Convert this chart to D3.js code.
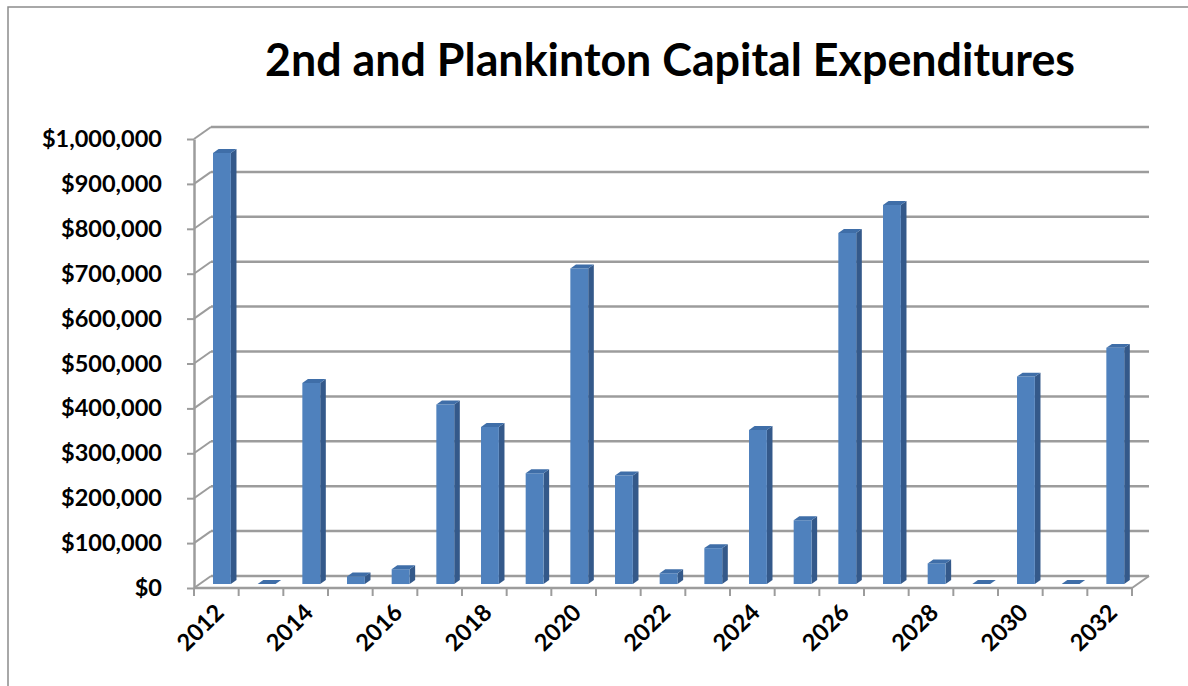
<!DOCTYPE html>
<html>
<head>
<meta charset="utf-8">
<script src="https://cdn.jsdelivr.net/npm/d3@7"></script>
<style>
  html, body { margin: 0; padding: 0; background: #ffffff; }
  svg { display: block; }
</style>
</head>
<body>
<div id="chart"></div>
<script>
const years = ["2012","2013","2014","2015","2016","2017","2018","2019","2020","2021","2022",
               "2023","2024","2025","2026","2027","2028","2029","2030","2031","2032"];
const expenditures = [960000, 0, 448000, 17000, 33000, 400000, 350000, 247000, 703000, 242000, 24000,
                      80000, 343000, 142000, 782000, 844000, 46000, 0, 462000, 0, 526000];
const yTicks = [0, 100000, 200000, 300000, 400000, 500000, 600000, 700000, 800000, 900000, 1000000];
const titleText = "2nd and Plankinton Capital Expenditures";

const W = 1188, H = 686;
const x0 = 194, x1 = 1132, y0 = 588, plotH = 449;
const DX = 17, DY = -12;          // depth offset of 3D floor / back wall
const F1 = 0.33, F2 = 0.66;       // bar front / back depth fraction
const font = "Lato, 'Open Sans', sans-serif";

const svg = d3.select("#chart").append("svg").attr("width", W).attr("height", H);

// outer frame (left and top edges visible)
svg.append("rect").attr("x", 8).attr("y", 7).attr("width", W + 20).attr("height", H + 20)
  .attr("fill", "none").attr("stroke", "#8c8c8c").attr("stroke-width", 1.5);

const x = d3.scaleBand().domain(years).range([x0, x1]).paddingInner(0.6).paddingOuter(0.3);
const y = d3.scaleLinear().domain([0, 1000000]).range([y0, y0 - plotH]);
const step = x.step();

const gridColor = "#9c9c9c";
const grid = svg.append("g");

// back wall gridlines + side wall diagonals
yTicks.forEach(v => {
  grid.append("line")
    .attr("x1", x0 + DX).attr("x2", x1 + DX)
    .attr("y1", y(v) + DY).attr("y2", y(v) + DY)
    .attr("stroke", gridColor).attr("stroke-width", 2.5);
  grid.append("line")
    .attr("x1", x0).attr("y1", y(v))
    .attr("x2", x0 + DX).attr("y2", y(v) + DY)
    .attr("stroke", gridColor).attr("stroke-width", 2);
});

// floor front edge and right edge
grid.append("line").attr("x1", x0).attr("x2", x1).attr("y1", y0).attr("y2", y0)
  .attr("stroke", gridColor).attr("stroke-width", 2.5);
grid.append("line").attr("x1", x1).attr("y1", y0).attr("x2", x1 + DX).attr("y2", y0 + DY)
  .attr("stroke", gridColor).attr("stroke-width", 2);

// category boundary ticks
d3.range(years.length + 1).forEach(i => {
  const bx = i < years.length ? x(years[i]) - x.paddingOuter() * step : x1;
  grid.append("line").attr("x1", bx).attr("x2", bx).attr("y1", y0).attr("y2", y0 + 8)
    .attr("stroke", gridColor).attr("stroke-width", 2);
});

// bars
const bars = svg.append("g");
const data = years.map((yr, i) => ({ year: yr, value: expenditures[i] }));
const P = (px, v, f) => [px + DX * f, y(v) + DY * f];
const poly = pts => "M" + pts.map(p => p.join(",")).join("L") + "Z";
const bw = x.bandwidth();
const dF = F2 - F1;

data.forEach(d => {
  const xl = x(d.year), xr = xl + bw;
  const fl = P(xl, d.value, F1), fr = P(xr, d.value, F1);
  const bl = P(xl, 0, F1), br = P(xr, 0, F1);
  const offX = DX * dF, offY = DY * dF;
  // side face
  bars.append("path").attr("d", poly([fr, br, [br[0] + offX, br[1] + offY], [fr[0] + offX, fr[1] + offY]]))
    .attr("fill", "#34598a");
  // front face
  bars.append("path").attr("d", poly([fl, fr, br, bl])).attr("fill", "#4f81bd");
  // top face
  bars.append("path").attr("d", poly([fl, fr, [fr[0] + offX, fr[1] + offY], [fl[0] + offX, fl[1] + offY]]))
    .attr("fill", "#3f6ea8");
});

// y axis
const yAxis = d3.axisLeft(y).tickValues(yTicks).tickFormat(d3.format("$,")).tickSize(7).tickSizeOuter(0).tickPadding(25);
const ya = svg.append("g").attr("transform", `translate(${x0},0)`).call(yAxis);
ya.select(".domain").attr("stroke", gridColor).attr("stroke-width", 2.5);
ya.selectAll(".tick line").attr("stroke", gridColor).attr("stroke-width", 2);
ya.selectAll(".tick text").attr("font-family", font).attr("font-weight", "bold")
  .attr("font-size", 23.5).attr("fill", "#000");

// x axis labels
const xAxis = d3.axisBottom(x).tickSize(0).tickFormat(d => (+d % 2 === 0 ? d : ""));
const xa = svg.append("g").attr("transform", `translate(0,${y0})`).call(xAxis);
xa.select(".domain").remove();
xa.selectAll(".tick text")
  .attr("font-family", font).attr("font-weight", "bold").attr("font-size", 23.5).attr("fill", "#000")
  .attr("text-anchor", "end").attr("y", 0).attr("dy", 0)
  .attr("transform", "translate(9,26) rotate(-45)");

// title
svg.append("text").attr("x", 670).attr("y", 76).attr("text-anchor", "middle")
  .attr("font-family", font).attr("font-weight", "bold").attr("font-size", 45)
  .attr("textLength", 810).attr("lengthAdjust", "spacingAndGlyphs")
  .text(titleText);
</script>
</body>
</html>
